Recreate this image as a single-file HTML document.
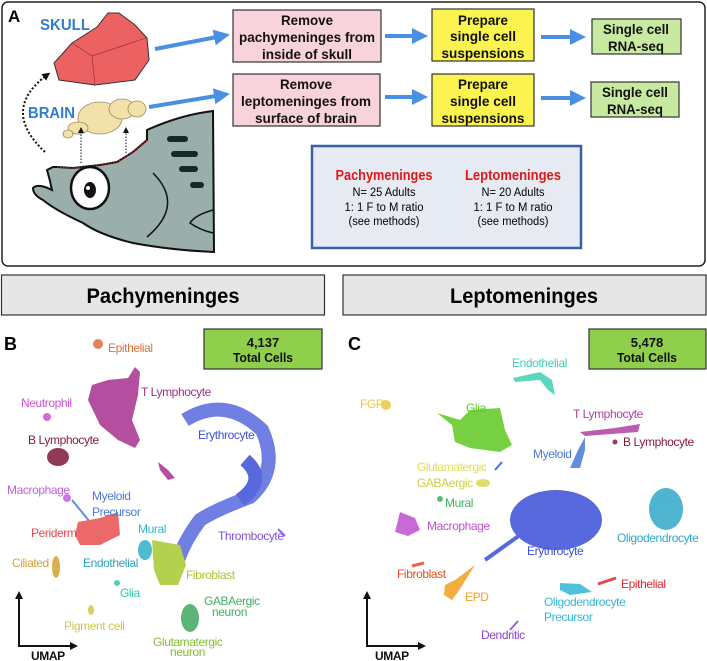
<!DOCTYPE html>
<html><head><meta charset="utf-8"><style>
html,body{margin:0;padding:0;background:#fff}
svg{display:block}
text{font-family:"Liberation Sans Narrow","Liberation Sans",sans-serif}
.bt{font-size:14px;font-weight:bold;fill:#111;text-anchor:middle}
.lb text{font-size:12px;letter-spacing:-0.4px}
</style></head><body>
<svg width="707" height="661" viewBox="0 0 707 661" xmlns="http://www.w3.org/2000/svg">
<defs><marker id="ah" markerWidth="4" markerHeight="4" refX="2" refY="2" orient="auto" markerUnits="strokeWidth"><path d="M0,0 L4,2 L0,4 z" fill="#4a90e0"/></marker>
<marker id="bk" markerWidth="6" markerHeight="6" refX="3" refY="3" orient="auto" markerUnits="strokeWidth"><path d="M0,0 L6,3 L0,6 z" fill="#111"/></marker>
<marker id="bk2" markerWidth="4" markerHeight="4" refX="2" refY="2" orient="auto" markerUnits="strokeWidth"><path d="M0,0 L4,2 L0,4 z" fill="#111"/></marker></defs>
<rect x="2" y="2" width="703" height="264" rx="6" fill="#fff" stroke="#222" stroke-width="1.5"/>
<text x="8" y="22" font-size="17" font-weight="bold" style="font-family:'Liberation Sans',sans-serif">A</text>
<text x="40" y="30" font-size="16" font-weight="bold" fill="#2f7fd0" textLength="50" lengthAdjust="spacingAndGlyphs">SKULL</text>
<text x="28" y="118" font-size="16" font-weight="bold" fill="#2f7fd0" textLength="47" lengthAdjust="spacingAndGlyphs">BRAIN</text>
<path d="M108,13 L119,13 L135,25 L147,38 L149,60 L135,80 L95,85 L59,80 L54,63 L72,43 L97,27 Z" fill="#ec6262" stroke="#333" stroke-width="1"/>
<path d="M92,56 L146,38 M92,56 L95,85 M92,56 L72,43" stroke="#8a2a2a" stroke-width="0.6" fill="none"/>
<path d="M147,130 Q180,115 213,111 L214,252 Q170,250 133,243 Q100,235 83,223 Q55,210 43,200 Q33,195 33,188 Q38,183 52,190 Q50,180 47,170 L53,167 L57,167 L73,168 L100,165 L117,162 L133,152 L147,140 Z" fill="#9aafac" stroke="#111" stroke-width="2"/>
<path d="M57,167 L73,168 L100,165 L117,162 L133,152 L147,140" fill="none" stroke="#e02020" stroke-width="1" stroke-dasharray="1.5,1.5"/>
<ellipse cx="90" cy="188" rx="19" ry="21" fill="#fff" stroke="#111" stroke-width="2.5"/>
<ellipse cx="90" cy="190" rx="6" ry="8" fill="#111"/><circle cx="88" cy="188" r="2" fill="#fff"/>
<g stroke="#112a2a" stroke-width="6" stroke-linecap="round"><line x1="170" y1="139" x2="185" y2="139"/><line x1="174" y1="154" x2="195" y2="154"/><line x1="182" y1="169" x2="195" y2="169"/><line x1="193" y1="185" x2="201" y2="185"/></g>
<path d="M153,173 Q185,205 147,237" fill="none" stroke="#111" stroke-width="1.5"/>
<path d="M213,210 Q195,215 190,223 Q200,230 213,233" fill="none" stroke="#111" stroke-width="1.5"/>
<g fill="#f2e2aa" stroke="#9a8a60" stroke-width="0.8"><ellipse cx="100" cy="118" rx="22" ry="16"/><ellipse cx="122" cy="109" rx="13" ry="10"/><ellipse cx="137" cy="109" rx="9" ry="8"/><ellipse cx="78" cy="128" rx="10" ry="6"/><ellipse cx="68" cy="134" rx="5" ry="4"/></g>
<path d="M45,152 Q0,110 47,75" fill="none" stroke="#111" stroke-width="2" stroke-dasharray="2,2" marker-end="url(#bk2)"/>
<line x1="81" y1="163" x2="81" y2="130" stroke="#111" stroke-width="1" stroke-dasharray="1.5,1.5" marker-end="url(#bk)"/>
<line x1="126" y1="153" x2="126" y2="130" stroke="#111" stroke-width="1" stroke-dasharray="1.5,1.5" marker-end="url(#bk)"/>
<g stroke="#4a90e0" stroke-width="4" fill="none" marker-end="url(#ah)">
<line x1="155" y1="49" x2="222" y2="36"/><line x1="149" y1="107" x2="222" y2="95"/>
<line x1="385" y1="36" x2="420" y2="36"/><line x1="541" y1="37" x2="578" y2="37"/>
<line x1="385" y1="97" x2="420" y2="97"/><line x1="541" y1="98" x2="578" y2="98"/></g>
<rect x="233" y="10" width="148" height="52" fill="#f8d3dc" stroke="#333" stroke-width="1.2"/>
<text class="bt" x="307" y="25" textLength="52" lengthAdjust="spacingAndGlyphs">Remove</text><text class="bt" x="307" y="42" textLength="136" lengthAdjust="spacingAndGlyphs">pachymeninges from</text><text class="bt" x="307" y="59" textLength="90" lengthAdjust="spacingAndGlyphs">inside of skull</text>
<rect x="233" y="74" width="147" height="52" fill="#f8d3dc" stroke="#333" stroke-width="1.2"/>
<text class="bt" x="306" y="89" textLength="52" lengthAdjust="spacingAndGlyphs">Remove</text><text class="bt" x="306" y="106" textLength="130" lengthAdjust="spacingAndGlyphs">leptomeninges from</text><text class="bt" x="306" y="123" textLength="102" lengthAdjust="spacingAndGlyphs">surface of brain</text>
<rect x="432" y="9" width="102" height="52" fill="#fbf34f" stroke="#333" stroke-width="1.2"/>
<text class="bt" x="483" y="25" textLength="50" lengthAdjust="spacingAndGlyphs">Prepare</text><text class="bt" x="483" y="41" textLength="66" lengthAdjust="spacingAndGlyphs">single cell</text><text class="bt" x="483" y="58" textLength="83" lengthAdjust="spacingAndGlyphs">suspensions</text>
<rect x="432" y="74" width="102" height="52" fill="#fbf34f" stroke="#333" stroke-width="1.2"/>
<text class="bt" x="483" y="89" textLength="50" lengthAdjust="spacingAndGlyphs">Prepare</text><text class="bt" x="483" y="106" textLength="66" lengthAdjust="spacingAndGlyphs">single cell</text><text class="bt" x="483" y="123" textLength="83" lengthAdjust="spacingAndGlyphs">suspensions</text>
<rect x="592" y="19" width="89" height="35" fill="#c8eaa0" stroke="#333" stroke-width="1.2"/>
<text class="bt" x="636" y="34" textLength="66" lengthAdjust="spacingAndGlyphs">Single cell</text><text class="bt" x="636" y="51" textLength="56" lengthAdjust="spacingAndGlyphs">RNA-seq</text>
<rect x="591" y="82" width="88" height="35" fill="#c8eaa0" stroke="#333" stroke-width="1.2"/>
<text class="bt" x="635" y="97" textLength="66" lengthAdjust="spacingAndGlyphs">Single cell</text><text class="bt" x="635" y="114" textLength="56" lengthAdjust="spacingAndGlyphs">RNA-seq</text>
<rect x="312" y="146" width="269" height="102" fill="#e6eaf3" stroke="#3b5ea8" stroke-width="2.5"/>
<g text-anchor="middle"><text x="384" y="180" font-size="15" font-weight="bold" fill="#e01818" textLength="97" lengthAdjust="spacingAndGlyphs">Pachymeninges</text>
<text x="384" y="196" font-size="11.5" textLength="63" lengthAdjust="spacingAndGlyphs">N= 25 Adults</text><text x="384" y="211" font-size="11.5" textLength="79" lengthAdjust="spacingAndGlyphs">1: 1 F to M ratio</text><text x="384" y="225" font-size="11.5" textLength="71" lengthAdjust="spacingAndGlyphs">(see methods)</text>
<text x="513" y="180" font-size="15" font-weight="bold" fill="#e01818" textLength="96" lengthAdjust="spacingAndGlyphs">Leptomeninges</text>
<text x="513" y="196" font-size="11.5" textLength="63" lengthAdjust="spacingAndGlyphs">N= 20 Adults</text><text x="513" y="211" font-size="11.5" textLength="79" lengthAdjust="spacingAndGlyphs">1: 1 F to M ratio</text><text x="513" y="225" font-size="11.5" textLength="71" lengthAdjust="spacingAndGlyphs">(see methods)</text></g>
<rect x="1.5" y="275" width="323" height="40" fill="#e6e6e6" stroke="#333" stroke-width="1.2"/>
<rect x="343" y="275" width="363" height="40" fill="#e6e6e6" stroke="#333" stroke-width="1.2"/>
<text x="163" y="303" font-size="21" font-weight="bold" text-anchor="middle" style="font-family:'Liberation Sans',sans-serif" textLength="153" lengthAdjust="spacingAndGlyphs">Pachymeninges</text>
<text x="524" y="303" font-size="21" font-weight="bold" text-anchor="middle" style="font-family:'Liberation Sans',sans-serif" textLength="148" lengthAdjust="spacingAndGlyphs">Leptomeninges</text>
<text x="4" y="350" font-size="18" font-weight="bold" style="font-family:'Liberation Sans',sans-serif">B</text>
<text x="348" y="350" font-size="18" font-weight="bold" style="font-family:'Liberation Sans',sans-serif">C</text>
<rect x="204" y="329" width="118" height="40" fill="#8fcf4c" stroke="#333" stroke-width="1.2"/>
<text class="bt" x="263" y="347" style="font-size:13px">4,137</text><text class="bt" x="263" y="362" style="font-size:13px" textLength="60" lengthAdjust="spacingAndGlyphs">Total Cells</text>
<rect x="589" y="329" width="117" height="40" fill="#8fcf4c" stroke="#333" stroke-width="1.2"/>
<text class="bt" x="647" y="347" style="font-size:13px">5,478</text><text class="bt" x="647" y="362" style="font-size:13px" textLength="60" lengthAdjust="spacingAndGlyphs">Total Cells</text>
<g opacity="0.85">
<circle cx="98" cy="344" r="5" fill="#e0703a"/>
<path d="M135,367 L140,372 L138,395 L132,420 L140,440 L135,448 L118,440 L100,425 L88,400 L92,385 L108,380 L128,378 Z" fill="#a8308f"/>
<path d="M158,462 L168,470 L175,478 L168,480 L160,470 Z" fill="#a8308f"/>
<circle cx="47" cy="417" r="4" fill="#d050d0"/>
<ellipse cx="58" cy="457" rx="11" ry="9" fill="#7d1838"/>
<path d="M185,420 Q225,395 262,430 Q280,470 250,497 Q215,510 200,520 Q185,540 178,560" fill="none" stroke="#3b4fd8" stroke-width="14" opacity="0.85"/>
<path d="M245,460 Q268,480 240,500" fill="none" stroke="#3b4fd8" stroke-width="14"/>
<circle cx="67" cy="498" r="4" fill="#c060e0"/>
<path d="M72,500 L90,522" stroke="#4a7ad8" stroke-width="2"/>
<path d="M78,522 L100,518 L118,512 L120,535 L100,545 L80,545 L75,535 Z" fill="#e85050"/>
<ellipse cx="145" cy="550" rx="7" ry="10" fill="#30b0c8"/>
<path d="M152,540 L180,545 L186,565 L178,585 L160,585 L154,570 Z" fill="#a8c830"/>
<line x1="278" y1="529" x2="285" y2="536" stroke="#8050e0" stroke-width="2"/>
<ellipse cx="56" cy="567" rx="4" ry="11" fill="#d8a030"/>
<circle cx="117" cy="583" r="3" fill="#30c8b0"/>
<ellipse cx="91" cy="610" rx="3" ry="5" fill="#d0c850"/>
<ellipse cx="190" cy="618" rx="9" ry="14" fill="#40a860"/>
</g>
<g class="lb">
<text x="108" y="352" fill="#e0703a">Epithelial</text>
<text x="141" y="396" fill="#a0308c">T Lymphocyte</text>
<text x="21" y="407" fill="#d050d0">Neutrophil</text>
<text x="28" y="444" fill="#8b1a3a">B Lymphocyte</text>
<text x="198" y="439" fill="#3b4fd8">Erythrocyte</text>
<text x="7" y="494" fill="#c060e0">Macrophage</text>
<text x="92" y="500" fill="#4a7ad8">Myeloid</text><text x="92" y="516" fill="#4a7ad8">Precursor</text>
<text x="31" y="537" fill="#e84848">Periderm</text>
<text x="138" y="533" fill="#30b8c8">Mural</text>
<text x="218" y="540" fill="#8050e0">Thrombocyte</text>
<text x="12" y="567" fill="#d8a030">Ciliated</text>
<text x="83" y="567" fill="#30a0b8">Endothelial</text>
<text x="186" y="579" fill="#a8c830">Fibroblast</text>
<text x="120" y="597" fill="#30c8b0">Glia</text>
<text x="204" y="605" fill="#40b060">GABAergic</text><text x="212" y="616" fill="#40b060">neuron</text>
<text x="64" y="630" fill="#d0c850">Pigment cell</text>
<text x="153" y="646" fill="#80c030">Glutamatergic</text><text x="170" y="656" fill="#80c030">neuron</text>
<text x="31" y="660" fill="#111" font-weight="bold">UMAP</text>
</g>
<path d="M19,646 L19,595" stroke="#111" stroke-width="2" marker-end="url(#bk2)"/>
<path d="M18,646 L74,646" stroke="#111" stroke-width="2" marker-end="url(#bk2)"/>
<g opacity="0.85">
<path d="M513,378 L540,372 L552,380 L555,395 L548,390 L540,380 L515,382 Z" fill="#40d0b0"/>
<circle cx="386" cy="405" r="5" fill="#e8c840"/>
<path d="M437,413 L460,420 L470,410 L500,408 L505,430 L512,445 L500,452 L470,448 L455,442 L452,425 Z" fill="#60c820"/>
<path d="M580,432 L615,428 L640,424 L638,432 L612,434 L585,436 Z" fill="#b040a0"/>
<circle cx="615" cy="442" r="2.5" fill="#8b1a3a"/>
<path d="M585,437 L578,450 L570,468 L580,468 L585,450 Z" fill="#4a7ad8"/>
<ellipse cx="483" cy="483" rx="7" ry="4" fill="#d8d850"/>
<line x1="495" y1="470" x2="502" y2="462" stroke="#3b4fd8" stroke-width="2"/>
<circle cx="440" cy="499" r="3" fill="#40b060"/>
<path d="M400,512 L415,518 L420,530 L408,536 L395,532 Z" fill="#c050d0"/>
<ellipse cx="556" cy="520" rx="46" ry="30" fill="#3b4fd8"/>
<path d="M520,535 L485,560" stroke="#3b4fd8" stroke-width="4"/>
<ellipse cx="666" cy="509" rx="17" ry="21" fill="#30a8c8"/>
<line x1="412" y1="566" x2="424" y2="563" stroke="#e05020" stroke-width="3"/>
<path d="M445,585 L455,580 L475,565 L458,592 L452,600 L444,595 Z" fill="#f0a020"/>
<path d="M560,583 L580,584 L592,592 L570,595 L560,590 Z" fill="#30b8d8"/>
<line x1="598" y1="584" x2="616" y2="578" stroke="#e02830" stroke-width="3"/>
<line x1="510" y1="630" x2="518" y2="621" stroke="#9040d8" stroke-width="2"/>
</g>
<g class="lb">
<text x="512" y="367" fill="#40d0b0">Endothelial</text>
<text x="360" y="408" fill="#e8c840">FGP</text>
<text x="466" y="412" fill="#60c820">Glia</text>
<text x="573" y="418" fill="#b040a0">T Lymphocyte</text>
<text x="623" y="446" fill="#8b1a3a">B Lymphocyte</text>
<text x="533" y="458" fill="#4a7ad8">Myeloid</text>
<text x="417" y="471" fill="#e0e050">Glutamatergic</text>
<text x="417" y="487" fill="#c8d040">GABAergic</text>
<text x="445" y="507" fill="#40b060">Mural</text>
<text x="427" y="530" fill="#c050d0">Macrophage</text>
<text x="617" y="542" fill="#30a8c8">Oligodendrocyte</text>
<text x="527" y="555" fill="#3b4fd8">Erythrocyte</text>
<text x="397" y="578" fill="#e05020">Fibroblast</text>
<text x="621" y="588" fill="#e02830">Epithelial</text>
<text x="465" y="601" fill="#f0a020">EPD</text>
<text x="544" y="606" fill="#30b8d8">Oligodendrocyte</text><text x="544" y="621" fill="#30b8d8">Precursor</text>
<text x="481" y="639" fill="#9040d8">Dendritic</text>
<text x="375" y="660" fill="#111" font-weight="bold">UMAP</text>
</g>
<path d="M367,646 L367,595" stroke="#111" stroke-width="2" marker-end="url(#bk2)"/>
<path d="M366,646 L422,646" stroke="#111" stroke-width="2" marker-end="url(#bk2)"/>
</svg>
</body></html>
